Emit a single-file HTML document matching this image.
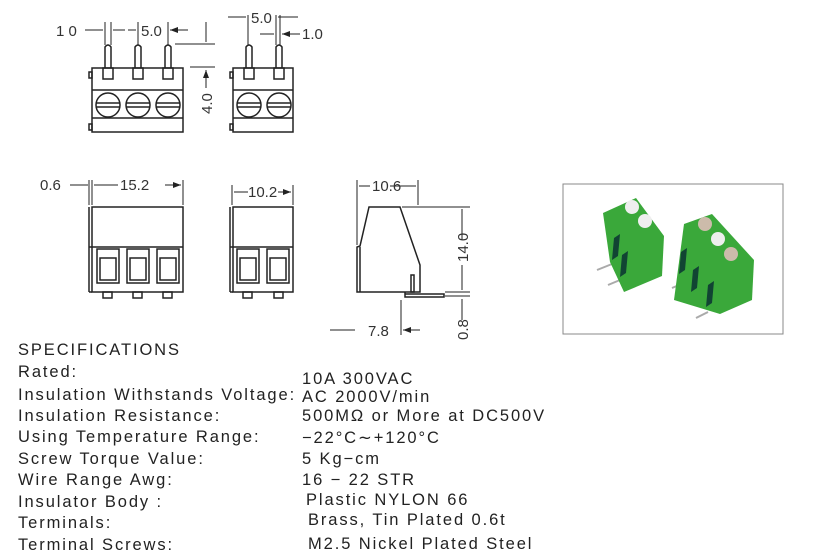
<!DOCTYPE html><html><head><style>
body{margin:0;width:830px;height:558px;background:#fff;overflow:hidden;position:relative;font-family:"Liberation Sans",sans-serif;color:#222}
.t{position:absolute;font-size:16.5px;letter-spacing:1.9px;white-space:nowrap;line-height:1}
</style></head><body>
<svg width="830" height="558" style="position:absolute;left:0;top:0" font-family="Liberation Sans" font-size="15" fill="#333">
<defs><marker id="a" markerWidth="8" markerHeight="6" refX="8" refY="3" orient="auto"><path d="M0,0L8,3L0,6z" fill="#222"/></marker></defs>
<g stroke="#222" stroke-width="1.5" fill="none">
<rect x="92" y="68" width="91" height="64"/><line x1="92" y1="90" x2="183" y2="90"/><line x1="92" y1="118" x2="183" y2="118"/>
<rect x="89" y="72" width="3" height="6"/><rect x="89" y="124" width="3" height="6"/>
<g id="p"><rect x="103" y="68" width="10" height="11"/><path d="M105,68V47Q108,43 111,47V68"/></g>
<use href="#p" x="30"/><use href="#p" x="60"/>
<circle cx="108" cy="105" r="12"/><circle cx="138" cy="105" r="12"/><circle cx="168" cy="105" r="12"/>
<path d="M96,103H120M96,107H120M126,103H150M126,107H150M156,103H180M156,107H180"/>
<rect x="233" y="68" width="60" height="64"/><line x1="233" y1="90" x2="293" y2="90"/><line x1="233" y1="118" x2="293" y2="118"/>
<rect x="230" y="72" width="3" height="6"/><rect x="230" y="124" width="3" height="6"/>
<use href="#p" x="141"/><use href="#p" x="171"/>
<circle cx="249" cy="105" r="12"/><circle cx="279" cy="105" r="12"/>
<path d="M237,103H261M237,107H261M267,103H291M267,107H291"/>
<path d="M105,22V45M111,22V45M138,22V45M168,22V45M175,44H215M190,67H215" stroke-width="1"/>
<path d="M85,30H103M125,30H113M128,30H136M188,30H170" stroke-width="1" marker-end="url(#a)"/>
<path d="M206,22V42M206,88V70" stroke-width="1" marker-end="url(#a)"/>
<path d="M248,15V45M276,15V45M280,15V45" stroke-width="1"/>
<path d="M228,17H246M298,17H278M260,34H274M300,34H282" stroke-width="1" marker-end="url(#a)"/>
<rect x="92" y="207" width="91" height="85"/><line x1="92" y1="247" x2="183" y2="247"/><line x1="89" y1="207" x2="89" y2="292"/><line x1="89" y1="247" x2="92" y2="247"/><line x1="89" y1="292" x2="92" y2="292"/>
<g id="w"><rect x="97" y="249" width="22" height="34"/><rect x="100" y="258" width="16" height="22"/></g>
<use href="#w" x="30"/><use href="#w" x="60"/>
<rect x="103" y="292" width="9" height="6"/><rect x="133" y="292" width="9" height="6"/><rect x="163" y="292" width="9" height="6"/>
<path d="M89,180V205M92,180V205M183,180V205" stroke-width="1"/>
<path d="M70,185H88M118,185H94M165,185H181" stroke-width="1" marker-end="url(#a)"/>
<rect x="233" y="207" width="60" height="85"/><line x1="230" y1="247" x2="293" y2="247"/><line x1="230" y1="207" x2="230" y2="292"/><line x1="230" y1="292" x2="233" y2="292"/>
<use href="#w" x="140"/><use href="#w" x="170"/>
<rect x="243" y="292" width="9" height="6"/><rect x="274" y="292" width="9" height="6"/>
<path d="M232,185V205M293,185V205" stroke-width="1"/>
<path d="M248,192H234M278,192H291" stroke-width="1" marker-end="url(#a)"/>
<path d="M369,207H400L420,265V292H357V247L360,246Z"/><line x1="360" y1="247" x2="360" y2="292"/>
<rect x="411" y="275" width="3" height="17"/><path d="M405,292V297H444V294H405"/>
<path d="M357,180V245M418,180V205M402,207H470M445,292H470M445,296H470M401,300V335" stroke-width="1"/>
<path d="M370,186H359M390,186H416M462,240V209M462,265V290M462,320V299M330,330H355M420,330H403" stroke-width="1" marker-end="url(#a)"/>
</g>
<text x="56" y="36">1 0</text><text x="141" y="36">5.0</text><text x="251" y="23">5.0</text><text x="302" y="39">1.0</text>
<text transform="translate(212,114) rotate(-90)">4.0</text>
<text x="40" y="190">0.6</text><text x="120" y="190">15.2</text><text x="248" y="197">10.2</text><text x="372" y="191">10.6</text>
<text transform="translate(468,262) rotate(-90)">14.0</text><text transform="translate(468,340) rotate(-90)">0.8</text>
<text x="368" y="336">7.8</text>
<rect x="563" y="184" width="220" height="150" fill="#fff" stroke="#888"/>
<path d="M597,270L612,264M608,285L620,280" stroke="#aaa" stroke-width="2"/>
<path d="M603,213L636,198L664,236L662,276L624,292L610,262Z" fill="#3aa83a"/>
<circle cx="632" cy="207" r="7" fill="#eee"/><circle cx="645" cy="221" r="7" fill="#eee"/>
<path d="M614,238l6,-4l-2,22l-6,4zM622,255l6,-4l-2,22l-6,4z" fill="#143"/>
<path d="M672,288L686,282M686,302L698,296M696,318L708,312" stroke="#aaa" stroke-width="2"/>
<path d="M684,224L712,214L754,260L752,300L720,314L674,300Z" fill="#3aa83a"/>
<circle cx="705" cy="224" r="7" fill="#cba"/><circle cx="718" cy="239" r="7" fill="#eee"/><circle cx="731" cy="254" r="7" fill="#cba"/>
<path d="M681,252l6,-4l-2,22l-6,4zM693,270l6,-4l-2,22l-6,4zM708,285l6,-4l-2,22l-6,4z" fill="#143"/>
</svg>
<div class="t" style="left:18px;top:342px">SPECIFICATIONS</div>
<div class="t" style="left:18px;top:364px">Rated:</div>
<div class="t" style="left:18px;top:387px">Insulation Withstands Voltage:</div>
<div class="t" style="left:18px;top:408px">Insulation Resistance:</div>
<div class="t" style="left:18px;top:429px">Using Temperature Range:</div>
<div class="t" style="left:18px;top:451px">Screw Torque Value:</div>
<div class="t" style="left:18px;top:472px">Wire Range Awg:</div>
<div class="t" style="left:18px;top:494px">Insulator Body :</div>
<div class="t" style="left:18px;top:515px">Terminals:</div>
<div class="t" style="left:18px;top:537px">Terminal Screws:</div>
<div class="t" style="left:302px;top:371px">10A 300VAC</div>
<div class="t" style="left:302px;top:389px">AC 2000V/min</div>
<div class="t" style="left:302px;top:408px">500MΩ or More at DC500V</div>
<div class="t" style="left:302px;top:430px">−22°C∼+120°C</div>
<div class="t" style="left:302px;top:451px">5 Kg−cm</div>
<div class="t" style="left:302px;top:472px">16 − 22 STR</div>
<div class="t" style="left:306px;top:492px">Plastic NYLON 66</div>
<div class="t" style="left:308px;top:512px">Brass, Tin Plated 0.6t</div>
<div class="t" style="left:308px;top:536px">M2.5 Nickel Plated Steel</div>
</body></html>
